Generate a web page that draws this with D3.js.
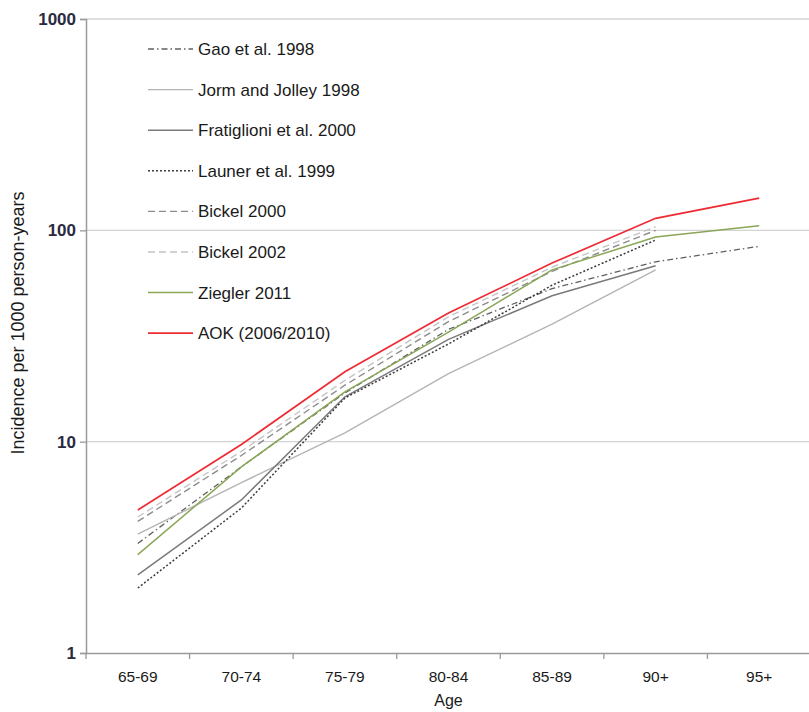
<!DOCTYPE html>
<html>
<head>
<meta charset="utf-8">
<script src="https://cdn.jsdelivr.net/npm/d3@7"></script>
<style>
  body { margin: 0; background: #fff; }
  svg { display: block; font-family: "Liberation Sans", Arial, sans-serif; }
</style>
</head>
<body>
<svg id="chart" width="809" height="712"></svg>
<script>
const categories = ["65-69", "70-74", "75-79", "80-84", "85-89", "90+", "95+"];
const yTicks = [1, 10, 100, 1000];

const gao = [3.3, 7.6, 17.0, 34.0, 53.0, 71.0, 84.0];
const jorm = [3.65, 6.4, 11.0, 21.0, 36.0, 65.0, null];
const fratiglioni = [2.34, 5.3, 16.3, 30.5, 49.0, 68.0, null];
const launer = [2.03, 4.85, 16.1, 29.0, 55.0, 90.0, null];
const bickel2000 = [4.2, 8.6, 18.5, 37.0, 64.0, 100.0, null];
const bickel2002 = [4.4, 9.0, 19.5, 39.0, 67.0, 104.0, null];
const ziegler = [2.92, 7.6, 17.2, 33.0, 65.0, 93.0, 105.0];
const aok = [4.75, 9.7, 21.4, 40.6, 70.0, 114.0, 142.0];

const seriesNames = ["Gao et al. 1998", "Jorm and Jolley 1998", "Fratiglioni et al. 2000",
  "Launer et al. 1999", "Bickel 2000", "Bickel 2002", "Ziegler 2011", "AOK (2006/2010)"];
const seriesValues = [gao, jorm, fratiglioni, launer, bickel2000, bickel2002, ziegler, aok];

const styles = [
  { color: "#606060", dash: "6,3,1.5,3", width: 1.3 },
  { color: "#b4b4b4", dash: null, width: 1.4 },
  { color: "#7a7a7a", dash: null, width: 1.5 },
  { color: "#3c3c3c", dash: "2,2", width: 1.5 },
  { color: "#8c8c8c", dash: "7,4", width: 1.4 },
  { color: "#c4c4c4", dash: "7,4", width: 1.4 },
  { color: "#8aa657", dash: null, width: 1.5 },
  { color: "#ee2a33", dash: null, width: 1.7 }
];

const svg = d3.select("#chart");
const mLeft = 86, mRight = 811, mTop = 19, mBottom = 653;

const x = d3.scaleBand().domain(categories).range([mLeft, mRight]);
const y = d3.scaleLog().domain([1, 1000]).range([mBottom, mTop]);

// gridlines
svg.append("g").selectAll("line")
  .data(yTicks.filter(d => d > 1))
  .join("line")
  .attr("x1", mLeft).attr("x2", 809)
  .attr("y1", d => y(d)).attr("y2", d => y(d))
  .attr("stroke", "#d4d4d4").attr("stroke-width", 1.3);

// y axis
const yAxis = d3.axisLeft(y).tickValues(yTicks).tickFormat(d3.format("d")).tickSize(6).tickPadding(4);
const gy = svg.append("g").attr("transform", `translate(${mLeft},0)`).call(yAxis);
gy.select(".domain").attr("stroke", "#9a9a9a").attr("stroke-width", 1.5);
gy.selectAll(".tick line").attr("stroke", "#9a9a9a").attr("stroke-width", 1.3);
gy.selectAll(".tick text").attr("font-size", 17).attr("font-weight", "bold")
  .attr("fill", "#2a2a40").attr("font-family", "Liberation Sans, Arial, sans-serif");

// x axis
const xAxis = d3.axisBottom(x).tickSize(0).tickPadding(18);
const gx = svg.append("g").attr("transform", `translate(0,${mBottom})`).call(xAxis);
gx.select(".domain").attr("stroke", "#9a9a9a").attr("stroke-width", 1.5);
gx.selectAll(".tick text").attr("font-size", 15.5).attr("fill", "#1a1a1a").attr("font-family", "Liberation Sans, Arial, sans-serif");
// boundary tick marks between categories
svg.append("g").selectAll("line")
  .data(categories)
  .join("line")
  .attr("x1", d => x(d)).attr("x2", d => x(d))
  .attr("y1", mBottom).attr("y2", mBottom + 6)
  .attr("stroke", "#9a9a9a").attr("stroke-width", 1.3);

// axis titles
svg.append("text").attr("x", x("80-84") + x.bandwidth() / 2).attr("y", 706)
  .attr("text-anchor", "middle").attr("font-size", 16).attr("fill", "#1a1a1a").text("Age");
svg.append("text").attr("transform", `translate(24,323) rotate(-90)`)
  .attr("text-anchor", "middle").attr("font-size", 18).attr("fill", "#1a1a1a")
  .text("Incidence per 1000 person-years");

// lines
const line = d3.line()
  .defined(d => d.v != null)
  .x(d => x(d.c) + x.bandwidth() / 2)
  .y(d => y(d.v));

seriesValues.forEach((vals, i) => {
  const data = categories.map((c, j) => ({ c, v: vals[j] }));
  const p = svg.append("path").datum(data)
    .attr("fill", "none")
    .attr("stroke", styles[i].color)
    .attr("stroke-width", styles[i].width)
    .attr("d", line);
  if (styles[i].dash) p.attr("stroke-dasharray", styles[i].dash);
});

// legend
const lg = svg.append("g");
seriesNames.forEach((name, i) => {
  const yy = 49 + i * 40.6;
  const l = lg.append("line").attr("x1", 148).attr("x2", 193).attr("y1", yy).attr("y2", yy)
    .attr("stroke", styles[i].color).attr("stroke-width", styles[i].width);
  if (styles[i].dash) l.attr("stroke-dasharray", styles[i].dash);
  lg.append("text").attr("x", 198).attr("y", yy + 6).attr("font-size", 17)
    .attr("fill", "#1a1a1a").text(name);
});
</script>
</body>
</html>
